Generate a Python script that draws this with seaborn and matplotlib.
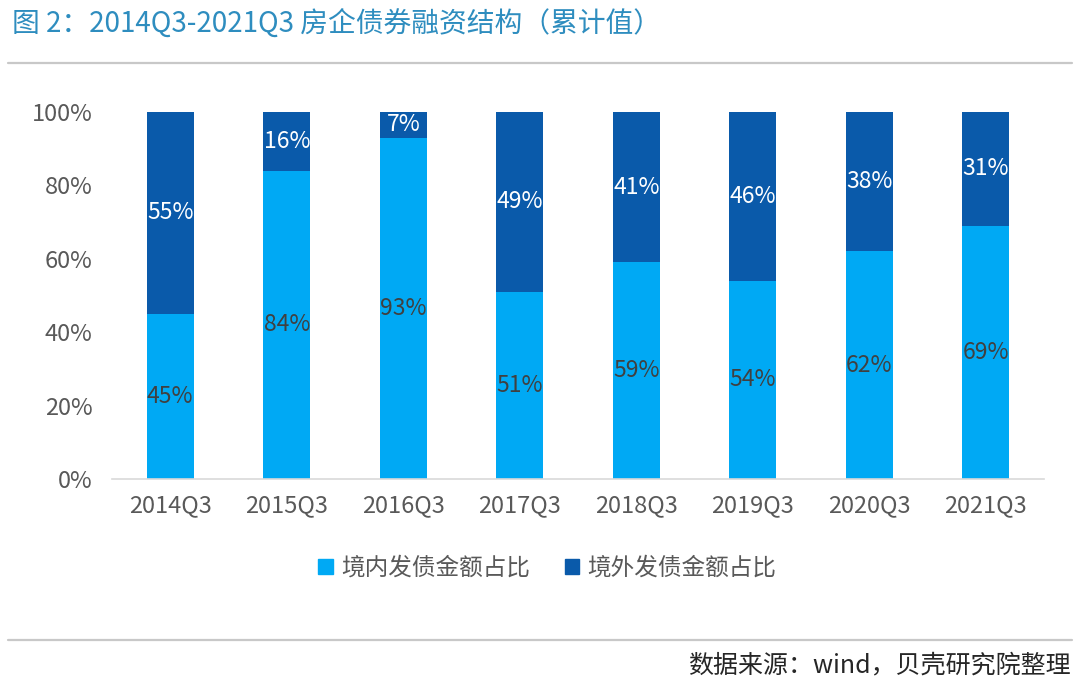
import matplotlib
matplotlib.use("Agg")
import matplotlib.pyplot as plt
import pandas as pd
import seaborn as sns
from matplotlib.lines import Line2D
from matplotlib.patches import Patch

quarters = ["2014Q3", "2015Q3", "2016Q3", "2017Q3", "2018Q3", "2019Q3", "2020Q3", "2021Q3"]
domestic = [0.45, 0.84, 0.93, 0.51, 0.59, 0.54, 0.62, 0.69]
overseas = [0.55, 0.16, 0.07, 0.49, 0.41, 0.46, 0.38, 0.31]
series_names = ["境内发债金额占比", "境外发债金额占比"]
y_ticks = [0, 0.2, 0.4, 0.6, 0.8, 1.0]

LIGHT = "#00A9F4"
DARK = "#0A5AAA"

sns.set_theme(style="white")
plt.rcParams["font.family"] = ["Noto Sans CJK SC", "DejaVu Sans"]

df = pd.DataFrame({"quarter": quarters, "domestic": domestic, "overseas": overseas})
df["total"] = df["domestic"] + df["overseas"]

fig = plt.figure(figsize=(10.8, 6.9), dpi=100)
ax = fig.add_axes([0.1037, 0.3058, 0.863, 0.532])

sns.barplot(data=df, x="quarter", y="total", color=DARK, width=0.4,
            saturation=1, linewidth=0, ax=ax)
sns.barplot(data=df, x="quarter", y="domestic", color=LIGHT, width=0.4,
            saturation=1, linewidth=0, ax=ax)

light_bars = ax.containers[1]
ax.bar_label(light_bars, labels=[f"{v:.0%}" for v in domestic],
             label_type="center", fontsize=16.5, color="#404040")
for i, (d, o) in enumerate(zip(domestic, overseas)):
    ax.text(i, d + o / 2, f"{o:.0%}", ha="center", va="center",
            fontsize=16.5, color="white")

ax.set_ylim(0, 1)
ax.set_yticks(y_ticks)
ax.set_yticklabels([f"{t:.0%}" for t in y_ticks])
ax.set_xlabel("")
ax.set_ylabel("")
ax.tick_params(axis="both", labelsize=17, labelcolor="#595959", length=0)
ax.tick_params(axis="x", pad=11)
ax.tick_params(axis="y", pad=14)
sns.despine(ax=ax, left=True)
ax.spines["bottom"].set_color("#D9D9D9")
ax.spines["bottom"].set_linewidth(1.2)

handles = [Patch(color=LIGHT), Patch(color=DARK)]
fig.legend(handles, series_names, loc="center", bbox_to_anchor=(0.507, 0.177),
           ncol=2, frameon=False, fontsize=17, handlelength=0.6,
           handleheight=0.6, handletextpad=0.35, columnspacing=1.5,
           labelcolor="#595959")

fig.text(0.011, 0.965, "图 2：2014Q3-2021Q3 房企债券融资结构（累计值）",
         ha="left", va="center", fontsize=20, color="#2E8DBF")
fig.add_artist(Line2D([0.007, 0.993], [0.909, 0.909], color="#C8C8C8", lw=1.6))
fig.add_artist(Line2D([0.007, 0.993], [0.073, 0.073], color="#C8C8C8", lw=1.6))
fig.text(0.991, 0.036, "数据来源：wind，贝壳研究院整理", ha="right", va="center",
         fontsize=18, color="#262626")

fig.savefig("out.png", dpi=100, facecolor="white")
